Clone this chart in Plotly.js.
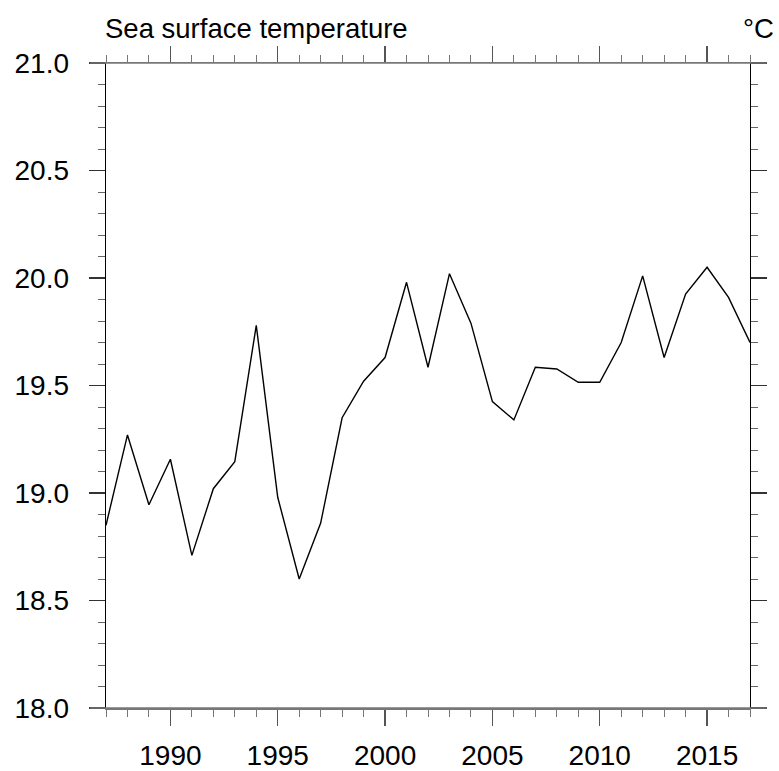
<!DOCTYPE html>
<html>
<head>
<meta charset="utf-8">
<script src="https://cdn.plot.ly/plotly-3.0.1.min.js"></script>
<style>html,body{margin:0;padding:0;background:#fff;}#chart{width:779px;height:771px;}</style>
</head>
<body>
<div id="chart"></div>
<script>
const years = [1987,1988,1989,1990,1991,1992,1993,1994,1995,1996,1997,1998,1999,2000,2001,2002,2003,2004,2005,2006,2007,2008,2009,2010,2011,2012,2013,2014,2015,2016,2017];
const sst = [18.85,19.27,18.945,19.157,18.71,19.02,19.146,19.78,18.98,18.60,18.86,19.35,19.52,19.63,19.98,19.585,20.02,19.79,19.425,19.34,19.585,19.577,19.515,19.515,19.70,20.01,19.63,19.925,20.05,19.91,19.70];
const xTickVals = [1990,1995,2000,2005,2010,2015];
const yTickVals = [18.0,18.5,19.0,19.5,20.0,20.5,21.0];
const titleText = "Sea surface temperature";
const unitText = "°C";

const fontFamily = "Liberation Sans, Arial, sans-serif";
const trace = {
  x: years, y: sst, type: 'scatter', mode: 'lines',
  line: {color: '#000', width: 1.4}, hoverinfo: 'skip'
};
const layout = {
  width: 779, height: 771,
  margin: {l: 106, r: 29, t: 63, b: 63},
  paper_bgcolor: '#fff', plot_bgcolor: '#fff',
  showlegend: false,
  font: {family: fontFamily, size: 28, color: '#000'},
  xaxis: {
    range: [1987, 2017], tickvals: xTickVals, ticktext: xTickVals.map(String),
    ticks: 'outside', ticklen: 16, tickwidth: 1.5, tickcolor: '#555',
    showline: true, linecolor: '#777', linewidth: 1.5, mirror: 'ticks',
    showgrid: false, zeroline: false,
    minor: {dtick: 1, tick0: 1987, ticks: 'outside', ticklen: 7, tickwidth: 1, tickcolor: '#777', showgrid: false},
    tickfont: {size: 28, family: fontFamily, color: '#000'},
    ticklabelstandoff: 6
  },
  yaxis: {
    range: [18, 21], tickvals: yTickVals, ticktext: yTickVals.map(v => v.toFixed(1)),
    ticks: 'outside', ticklen: 16, tickwidth: 1.5, tickcolor: '#333',
    showline: true, linecolor: '#000', linewidth: 1.4, mirror: 'ticks',
    showgrid: false, zeroline: false,
    minor: {dtick: 0.1, tick0: 18, ticks: 'outside', ticklen: 7, tickwidth: 1, tickcolor: '#666', showgrid: false},
    tickfont: {size: 28, family: fontFamily, color: '#000'},
    ticklabelstandoff: 14
  },
  shapes: [
    {type: 'line', xref: 'paper', yref: 'paper', x0: -0.025, x1: 1.026, y0: 0, y1: 0, line: {color: '#777', width: 1.5}},
    {type: 'line', xref: 'paper', yref: 'paper', x0: -0.025, x1: 1.026, y0: 1, y1: 1, line: {color: '#777', width: 1.5}}
  ],
  annotations: [
    {text: titleText, xref: 'paper', yref: 'paper', x: 0, y: 1, xanchor: 'left', yanchor: 'bottom', yshift: 17, xshift: -3, showarrow: false, font: {size: 27.5, family: fontFamily, color: '#000'}},
    {text: unitText, xref: 'paper', yref: 'paper', x: 1, y: 1, xanchor: 'right', yanchor: 'bottom', yshift: 17, xshift: 26, showarrow: false, font: {size: 27.5, family: fontFamily, color: '#000'}}
  ]
};
Plotly.newPlot('chart', [trace], layout, {displayModeBar: false, staticPlot: true});
</script>
</body>
</html>
